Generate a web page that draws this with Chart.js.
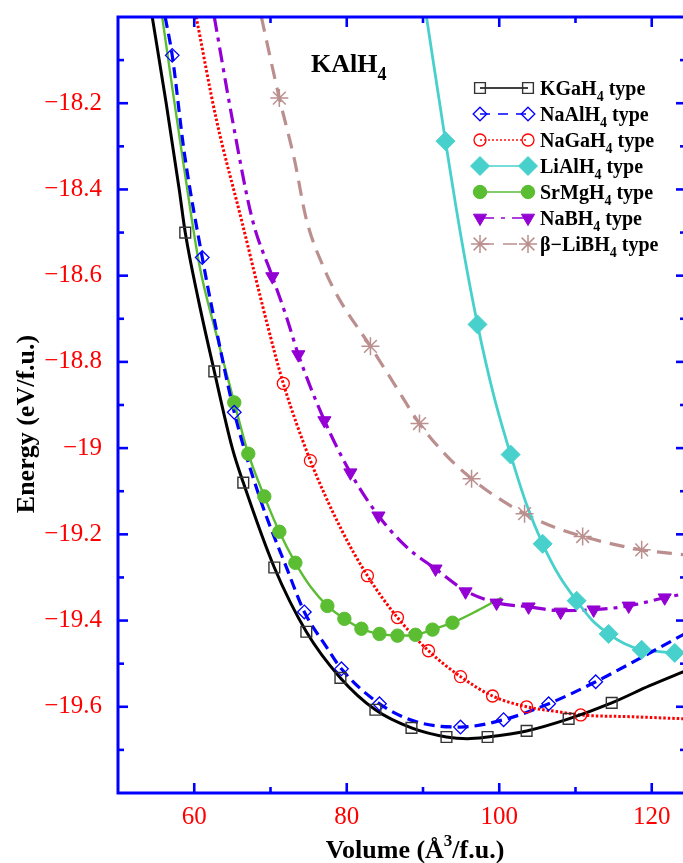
<!DOCTYPE html>
<html><head><meta charset="utf-8">
<script src="https://cdn.jsdelivr.net/npm/chart.js@4.4.1/dist/chart.umd.min.js"></script>
<style>
html,body{margin:0;padding:0;background:#fff;overflow:hidden;}
#wrap{width:683px;height:863px;overflow:hidden;position:relative;background:#fff;}
canvas{display:block;}
</style>
</head><body>
<div id="wrap"><canvas id="c" width="683" height="863" style="width:683px;height:863px"></canvas></div>
<script>
// ---------- data ----------
const xTicks = [60, 80, 100, 120];
const yTicks = [-18.2, -18.4, -18.6, -18.8, -19.0, -19.2, -19.4, -19.6];
const xRange = [50, 124.1];
const yRange = [-19.8, -18.0];
const seriesNames = ['KGaH4 type','NaAlH4 type','NaGaH4 type','LiAlH4 type','SrMgH4 type','NaBH4 type','β−LiBH4 type'];

// KGaH4 type
const kgahPts = [[58.82,-18.500],[62.63,-18.822],[66.43,-19.080],[70.50,-19.277],[74.70,-19.426],[79.17,-19.533],[83.76,-19.607],[88.49,-19.649],[93.08,-19.670],[98.47,-19.670],[103.59,-19.656],[109.10,-19.628],[114.75,-19.591]];
const kgahFit = [[54.49,-18.0],[56.32,-18.2],[58.03,-18.40],[58.82,-18.50],[60.53,-18.655],[62.63,-18.822],[64.99,-19.0],[66.43,-19.080],[70.50,-19.277],[74.70,-19.426],[79.17,-19.533],[83.76,-19.607],[88.49,-19.649],[93.08,-19.670],[95.84,-19.674],[98.47,-19.670],[103.59,-19.656],[109.10,-19.628],[114.75,-19.591],[119.74,-19.551],[124.5,-19.516]];
// NaAlH4 type
const naalPts = [[57.11,-18.089],[61.05,-18.558],[65.25,-18.917],[74.44,-19.380],[79.30,-19.512],[84.29,-19.593],[94.92,-19.647],[100.57,-19.630],[106.48,-19.593],[112.65,-19.542]];
const naalFit = [[56.19,-18.0],[57.11,-18.089],[58.69,-18.314],[61.05,-18.558],[62.63,-18.702],[65.25,-18.917],[68.53,-19.112],[72.21,-19.282],[74.44,-19.380],[77.33,-19.461],[79.30,-19.512],[84.29,-19.593],[89.15,-19.635],[94.92,-19.647],[100.57,-19.630],[106.48,-19.593],[112.65,-19.542],[118.82,-19.484],[124.5,-19.429]];
// NaGaH4 type
const nagaPts = [[71.68,-18.850],[75.23,-19.029],[82.71,-19.296],[86.65,-19.393],[90.72,-19.470],[94.92,-19.530],[99.12,-19.575],[103.59,-19.600],[110.68,-19.619]];
const nagaFit = [[60.26,-18.0],[62.89,-18.237],[66.17,-18.469],[69.58,-18.713],[71.68,-18.850],[75.23,-19.029],[79.30,-19.189],[82.71,-19.296],[86.65,-19.393],[90.72,-19.470],[94.92,-19.530],[99.12,-19.575],[103.59,-19.600],[107.92,-19.612],[110.68,-19.619],[117.11,-19.623],[124.5,-19.628]];
// LiAlH4 type
const lialPts = [[92.95,-18.288],[97.15,-18.713],[101.49,-19.015],[105.69,-19.222],[110.15,-19.354],[114.35,-19.431],[118.68,-19.468],[123.02,-19.475]];
const lialFit = [[90.46,-18.0],[92.95,-18.288],[95.05,-18.516],[97.15,-18.713],[99.25,-18.876],[101.49,-19.015],[103.59,-19.131],[105.69,-19.222],[107.92,-19.298],[110.15,-19.354],[112.12,-19.398],[114.35,-19.431],[116.45,-19.454],[118.68,-19.468],[121.05,-19.472],[123.02,-19.475],[124.5,-19.472]];
// SrMgH4 type
const srmgPts = [[65.25,-18.894],[67.09,-19.013],[69.19,-19.112],[71.16,-19.194],[73.26,-19.266],[77.46,-19.366],[79.69,-19.396],[81.92,-19.419],[84.29,-19.431],[86.65,-19.435],[89.01,-19.433],[91.25,-19.421],[93.87,-19.405]];
const srmgFit = [[55.80,-18.0],[57.24,-18.179],[58.69,-18.353],[60.66,-18.574],[62.89,-18.736],[65.25,-18.894],[67.09,-19.013],[69.19,-19.112],[71.16,-19.194],[73.26,-19.266],[75.36,-19.324],[77.46,-19.366],[79.69,-19.396],[81.92,-19.419],[84.29,-19.431],[86.65,-19.435],[89.01,-19.433],[91.25,-19.421],[93.87,-19.405],[97.15,-19.377],[100.30,-19.347]];
// NaBH4 type
const nabhPts = [[70.24,-18.602],[73.65,-18.783],[77.07,-18.936],[80.48,-19.057],[84.16,-19.157],[91.64,-19.280],[95.58,-19.333],[99.65,-19.359],[103.85,-19.368],[108.05,-19.380],[112.38,-19.375],[116.98,-19.366],[121.70,-19.347]];
const nabhFit = [[62.63,-18.0],[64.99,-18.237],[67.61,-18.469],[70.24,-18.602],[72.21,-18.702],[73.65,-18.783],[77.07,-18.936],[80.48,-19.057],[84.16,-19.157],[87.83,-19.229],[91.64,-19.280],[95.58,-19.331],[99.65,-19.359],[103.85,-19.368],[108.05,-19.377],[112.38,-19.375],[116.98,-19.366],[121.70,-19.347],[124.5,-19.337]];
// beta-LiBH4 type
const libhPts = [[71.16,-18.188],[83.11,-18.764],[89.54,-18.943],[96.37,-19.071],[103.32,-19.152],[110.94,-19.205],[118.68,-19.236]];
const libhFit = [[68.80,-18.0],[71.16,-18.188],[73.13,-18.330],[74.70,-18.469],[77.07,-18.585],[79.04,-18.655],[83.11,-18.764],[86.26,-18.852],[89.54,-18.943],[92.95,-19.015],[96.37,-19.071],[99.78,-19.115],[103.32,-19.152],[107.00,-19.182],[110.94,-19.205],[114.75,-19.222],[118.68,-19.236],[124.5,-19.248]];

// ---------- styles ----------
const SERIF = '"Liberation Serif","Times New Roman",Times,serif';
const AXIS_BLUE = '#0000ff';
const styles = [
  {fit:kgahFit, pts:kgahPts, line:'#000000', lw:3, dash:[], mk:{style:'rect', r:7.6, fill:'rgba(0,0,0,0)', stroke:'#333333', bw:1.4, rot:0}, ldash:[]},
  {fit:naalFit, pts:naalPts, line:'#0000ff', lw:3.2, dash:[11,6], mk:{style:'rectRot', r:6.8, fill:'rgba(0,0,0,0)', stroke:'#0000ff', bw:1.3, rot:0}, ldash:[10,8]},
  {fit:nagaFit, pts:nagaPts, line:'#ff0000', lw:3, dash:[2.5,2], mk:{style:'circle', r:6, fill:'rgba(0,0,0,0)', stroke:'#ff0000', bw:1.3, rot:0}, ldash:[2,2]},
  {fit:lialFit, pts:lialPts, line:'#48d1cc', lw:2.8, dash:[], mk:{style:'rectRot', r:9.5, fill:'#48d1cc', stroke:'#48d1cc', bw:1, rot:0}, ldash:[]},
  {fit:srmgFit, pts:srmgPts, line:'#5abd32', lw:2.4, dash:[], mk:{style:'circle', r:6.7, fill:'#5abd32', stroke:'#5abd32', bw:1, rot:0}, ldash:[]},
  {fit:nabhFit, pts:nabhPts, line:'#9400d3', lw:3.2, dash:[15,6,4,6], mk:{style:'triangle', r:7.6, fill:'#9400d3', stroke:'#9400d3', bw:1, rot:180}, ldash:[14,7,4,7]},
  {fit:libhFit, pts:libhPts, line:'#bc8f8f', lw:3.2, dash:[15,9], mk:{style:'star', r:9, fill:'#bc8f8f', stroke:'#bc8f8f', bw:1.5, rot:0}, ldash:[14,9]}
];

const datasets = [];
styles.forEach((s, i) => {
  datasets.push({
    label: seriesNames[i] + ' fit',
    data: s.fit.map(p => ({x:p[0], y:p[1]})),
    showLine: true, borderColor: s.line, borderWidth: s.lw, borderDash: s.dash,
    pointRadius: 0, pointHoverRadius: 0, fill: false,
    cubicInterpolationMode: 'monotone', clip: 0, order: 2
  });
});
styles.forEach((s, i) => {
  datasets.push({
    label: seriesNames[i],
    data: s.pts.map(p => ({x:p[0], y:p[1]})),
    showLine: false, pointStyle: s.mk.style, pointRadius: s.mk.r, pointHoverRadius: s.mk.r,
    pointBackgroundColor: s.mk.fill, pointBorderColor: s.mk.stroke, pointBorderWidth: s.mk.bw,
    pointRotation: s.mk.rot, clip: false, order: 1
  });
});

function fmtY(v){ const a = +Math.abs(v).toFixed(1); return (v < 0 ? '\u2212' : '') + String(a); }

function drawMarker(ctx, mk, x, y){
  ctx.save();
  ctx.fillStyle = mk.fill; ctx.strokeStyle = mk.stroke; ctx.lineWidth = mk.bw; ctx.setLineDash([]);
  if (Chart.helpers && Chart.helpers.drawPoint) {
    Chart.helpers.drawPoint(ctx, {pointStyle: mk.style, rotation: mk.rot, radius: mk.r, borderWidth: mk.bw}, x, y);
  }
  ctx.restore();
}

function drawParts(ctx, x, y, parts, size, subSize, mode){
  let cx = x;
  ctx.font = 'bold ' + size + 'px ' + SERIF; ctx.fillText(parts[0], cx, y); cx += ctx.measureText(parts[0]).width;
  ctx.font = 'bold ' + subSize + 'px ' + SERIF;
  const dy = mode === 'sup' ? -size*0.38 : size*0.3;
  ctx.fillText(parts[1], cx, y + dy); cx += ctx.measureText(parts[1]).width;
  if (parts[2]) { ctx.font = 'bold ' + size + 'px ' + SERIF; ctx.fillText(parts[2], cx, y); cx += ctx.measureText(parts[2]).width; }
  return cx - x;
}
function partsWidth(ctx, parts, size, subSize){
  ctx.font = 'bold ' + size + 'px ' + SERIF; let w = ctx.measureText(parts[0]).width + (parts[2] ? ctx.measureText(parts[2]).width : 0);
  ctx.font = 'bold ' + subSize + 'px ' + SERIF; w += ctx.measureText(parts[1]).width; return w;
}

const legendParts = [['KGaH','4',' type'],['NaAlH','4',' type'],['NaGaH','4',' type'],['LiAlH','4',' type'],['SrMgH','4',' type'],['NaBH','4',' type'],['\u03b2\u2212LiBH','4',' type']];

const framePlugin = {
  id: 'frame',
  afterDraw(chart){
    const {ctx, chartArea: a, scales: {x, y}} = chart;
    const rEdge = a.right + 3; // the right axis sits just outside the picture
    ctx.save();
    ctx.strokeStyle = AXIS_BLUE; ctx.lineWidth = 2.6; ctx.lineCap = 'butt'; ctx.setLineDash([]);
    const tk = (x1,y1,x2,y2) => { ctx.beginPath(); ctx.moveTo(x1,y1); ctx.lineTo(x2,y2); ctx.stroke(); };
    for (let v = xRange[0] + 10; v < xRange[1]; v += 10) {
      const px = x.getPixelForValue(v); const L = xTicks.includes(v) ? 10 : 6;
      tk(px, a.bottom, px, a.bottom - L); tk(px, a.top, px, a.top + L);
    }
    for (let k = 1; k < 18; k++) {
      const v = +(yRange[1] - k*0.1).toFixed(1);
      const py = y.getPixelForValue(v); const L = yTicks.some(t => Math.abs(t - v) < 1e-6) ? 10 : 6;
      tk(a.left, py, a.left + L, py); tk(rEdge, py, rEdge - L, py);
    }
    ctx.lineWidth = 3;
    ctx.beginPath();
    ctx.moveTo(rEdge + 2, a.top); ctx.lineTo(a.left, a.top); ctx.lineTo(a.left, a.bottom); ctx.lineTo(rEdge + 2, a.bottom);
    ctx.stroke();

    // axis titles
    ctx.fillStyle = '#000'; ctx.textBaseline = 'middle'; ctx.textAlign = 'left';
    const xt = ['Volume (\u00c5','3','/f.u.)'];
    const wx = partsWidth(ctx, xt, 26, 17);
    drawParts(ctx, 415 - wx/2, 851, xt, 26, 17, 'sup');
    ctx.save();
    ctx.translate(27, 424); ctx.rotate(-Math.PI/2);
    ctx.font = 'bold 26px ' + SERIF; ctx.textAlign = 'center';
    ctx.fillText('Energy (eV/f.u.)', 0, 0);
    ctx.restore();

    // panel title
    ctx.textBaseline = 'alphabetic'; ctx.textAlign = 'left';
    drawParts(ctx, 311, 72, ['KAlH','4',''], 26, 18, 'sub');

    // legend
    legendParts.forEach((p, i) => {
      const s = styles[i]; const ry = 88 + 26*i;
      ctx.save();
      ctx.strokeStyle = s.line; ctx.lineWidth = 1.4; ctx.setLineDash(s.ldash);
      ctx.beginPath(); ctx.moveTo(480, ry); ctx.lineTo(528, ry); ctx.stroke();
      ctx.restore();
      drawMarker(ctx, s.mk, 480, ry); drawMarker(ctx, s.mk, 528, ry);
      ctx.fillStyle = '#000'; ctx.textBaseline = 'alphabetic';
      drawParts(ctx, 540, ry + 7, p, 20, 14, 'sub');
    });
    ctx.restore();
  }
};

function noPad(s){ s.paddingTop = 0; s.paddingBottom = 0; s.paddingLeft = 0; s.paddingRight = 0; }

new Chart(document.getElementById('c'), {
  type: 'scatter',
  data: { datasets },
  options: {
    responsive: false, animation: false, devicePixelRatio: 1, events: [],
    layout: { autoPadding: false, padding: { top: 17, right: 0, bottom: 0, left: 0 } },
    plugins: { legend: { display: false }, tooltip: { enabled: false }, title: { display: false } },
    scales: {
      x: {
        type: 'linear', min: xRange[0], max: xRange[1],
        grid: { display: false, drawTicks: false }, border: { display: false },
        afterBuildTicks: s => { s.ticks = xTicks.map(v => ({value: v})); },
        afterFit: s => { s.height = 70; noPad(s); },
        ticks: { color: '#ff0000', font: { family: SERIF, size: 25 }, padding: 9, maxRotation: 0, autoSkip: false, callback: v => String(v) }
      },
      y: {
        type: 'linear', min: yRange[0], max: yRange[1],
        grid: { display: false, drawTicks: false }, border: { display: false },
        afterBuildTicks: s => { s.ticks = yTicks.map(v => ({value: v})); },
        afterFit: s => { s.width = 118; noPad(s); },
        ticks: { color: '#ff0000', font: { family: SERIF, size: 25 }, padding: 16, autoSkip: false, callback: v => fmtY(v) }
      }
    }
  },
  plugins: [framePlugin]
});
</script>
</body></html>
